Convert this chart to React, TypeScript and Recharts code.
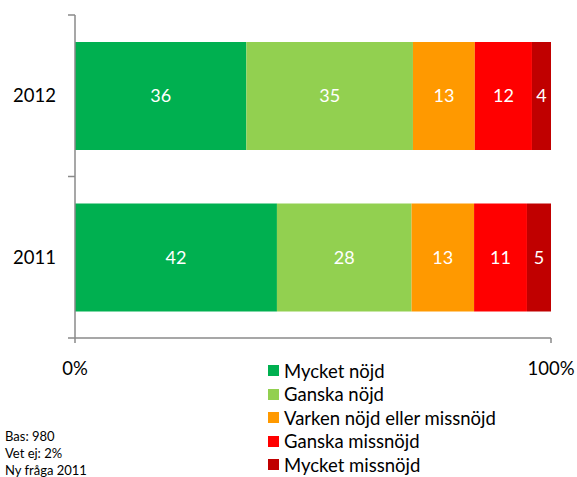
import { BarChart, Bar, XAxis, YAxis, LabelList } from "recharts";

const years = ["2012", "2011"];
const mycketNojd = [36, 42];
const ganskaNojd = [35, 28];
const varken = [13, 13];
const ganskaMissnojd = [12, 11];
const mycketMissnojd = [4, 5];

const seriesNames = [
  "Mycket nöjd",
  "Ganska nöjd",
  "Varken nöjd eller missnöjd",
  "Ganska missnöjd",
  "Mycket missnöjd",
];
const seriesKeys = ["mn", "gn", "vk", "gm", "mm"];
const colors = ["#00B050", "#92D050", "#FF9900", "#FF0000", "#C00000"];
const footnotes = ["Bas: 980", "Vet ej: 2%", "Ny fråga 2011"];

const data = years.map((year, i) => ({
  year,
  mn: mycketNojd[i],
  gn: ganskaNojd[i],
  vk: varken[i],
  gm: ganskaMissnojd[i],
  mm: mycketMissnojd[i],
}));

const FONT = "Lato, 'Open Sans', sans-serif";
const AXIS = "#8a8a8a";
const TICK_SIZE = 7;
const TICK_MARGIN = 12;

// category label plus the tick marks between categories (Excel style)
function YearTick(props: any) {
  const { x, y, payload, index, visibleTicksCount, height } = props;
  const half =
    payload && payload.offset ? payload.offset : height / visibleTicksCount / 2;
  const lx1 = x + TICK_MARGIN;
  const lx2 = lx1 + TICK_SIZE;
  return (
    <g>
      <line x1={lx1} x2={lx2} y1={y - half} y2={y - half} stroke={AXIS} strokeWidth={1.5} />
      {index === visibleTicksCount - 1 && (
        <line x1={lx1} x2={lx2} y1={y + half} y2={y + half} stroke={AXIS} strokeWidth={1.5} />
      )}
      <text x={x} y={y} dy={6.5} textAnchor="end" fill="#000" fontSize={18.5} fontFamily={FONT}>
        {payload.value}
      </text>
    </g>
  );
}

export default function App() {
  return (
    <div style={{ position: "absolute", left: 0, top: 0, width: 577, height: 477, background: "#fff", overflow: "hidden" }}>
      <BarChart
        width={577}
        height={477}
        data={data}
        layout="vertical"
        stackOffset="expand"
        barSize={108}
        margin={{ top: 15, right: 26, left: 15, bottom: 109 }}
      >
        <XAxis
          type="number"
          domain={[0, 1]}
          ticks={[0, 1]}
          tickFormatter={(v: number) => `${Math.round(v * 100)}%`}
          axisLine={{ stroke: AXIS, strokeWidth: 1.5 }}
          tickLine={{ stroke: AXIS, strokeWidth: 1.5 }}
          tickSize={5}
          tickMargin={19}
          height={30}
          tick={{ fill: "#000", fontSize: 18.5, fontFamily: FONT }}
        />
        <YAxis
          type="category"
          dataKey="year"
          width={60}
          axisLine={{ stroke: AXIS, strokeWidth: 1.5 }}
          tickLine={false}
          tickSize={TICK_SIZE}
          tickMargin={TICK_MARGIN}
          tick={<YearTick />}
        />
        {seriesKeys.map((key, i) => (
          <Bar key={key} dataKey={key} name={seriesNames[i]} stackId="a" fill={colors[i]} isAnimationActive={false}>
            <LabelList dataKey={key} position="center" fill="#fff" fontSize={18} fontFamily={FONT} />
          </Bar>
        ))}
      </BarChart>

      <div style={{ position: "absolute", left: 268, top: 359, fontFamily: FONT, fontSize: 18.5, color: "#000" }}>
        {seriesNames.map((name, i) => (
          <div key={name} style={{ display: "flex", alignItems: "center", height: 23.5 }}>
            <span style={{ width: 11, height: 11, background: colors[i], marginRight: 5, display: "inline-block" }} />
            <span>{name}</span>
          </div>
        ))}
      </div>

      <div style={{ position: "absolute", left: 5, top: 428, fontFamily: FONT, fontSize: 13, lineHeight: "17px", color: "#000" }}>
        {footnotes.map((t) => (
          <div key={t}>{t}</div>
        ))}
      </div>
    </div>
  );
}
